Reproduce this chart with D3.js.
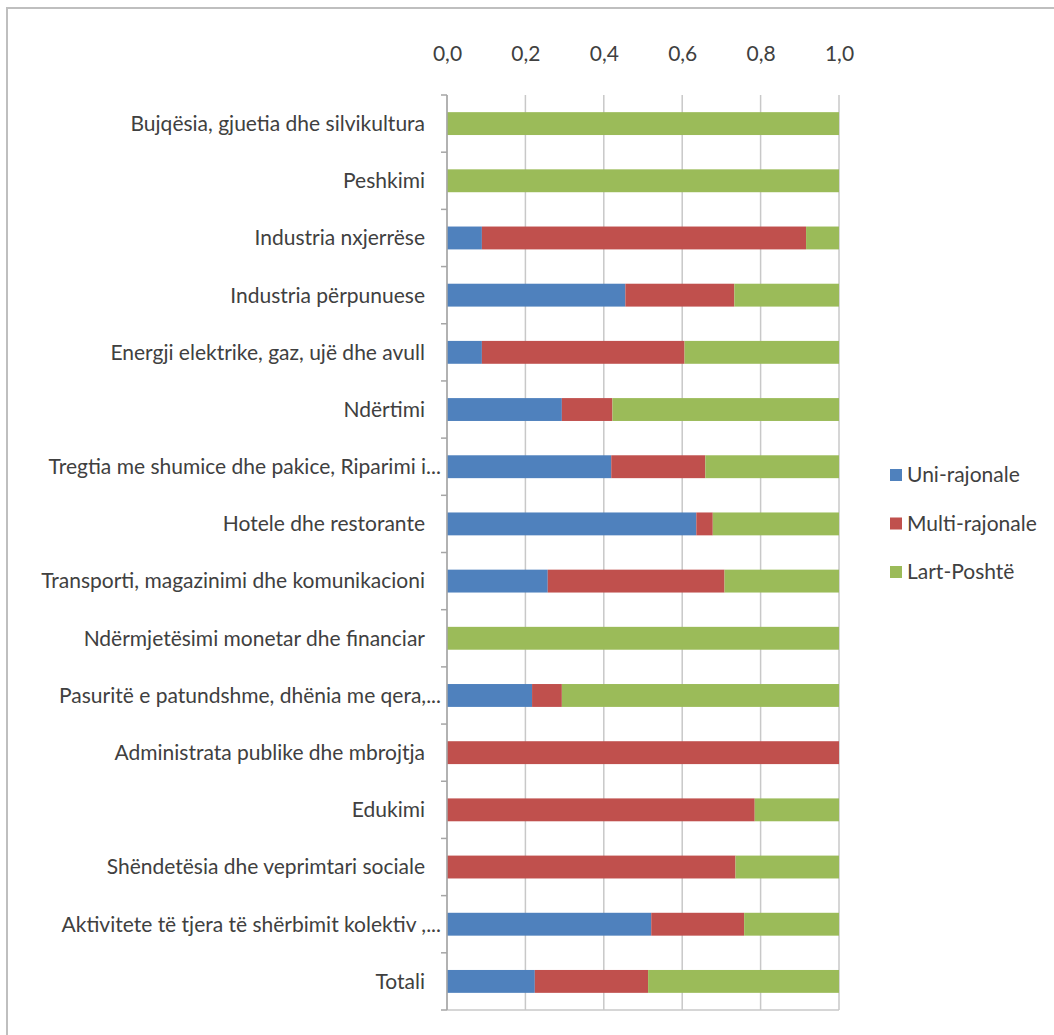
<!DOCTYPE html>
<html>
<head>
<meta charset="utf-8">
<script src="https://cdn.jsdelivr.net/npm/d3@7"></script>
<style>
  body { margin: 0; background: #fff; }
  text { font-family: Lato, "Open Sans", sans-serif; fill: #404040; }
</style>
</head>
<body>
<script>
// categories, top to bottom
let categories = [
  "Bujqësia, gjuetia dhe silvikultura",
  "Peshkimi",
  "Industria nxjerrëse",
  "Industria përpunuese",
  "Energji elektrike, gaz, ujë dhe avull",
  "Ndërtimi",
  "Tregtia me shumice dhe pakice, Riparimi i...",
  "Hotele dhe restorante",
  "Transporti, magazinimi dhe komunikacioni",
  "Ndërmjetësimi monetar dhe financiar",
  "Pasuritë e patundshme, dhënia me qera,...",
  "Administrata publike dhe mbrojtja",
  "Edukimi",
  "Shëndetësia dhe veprimtari sociale",
  "Aktivitete të tjera të shërbimit kolektiv ,...",
  "Totali"
];

let seriesNames = ["Uni-rajonale", "Multi-rajonale", "Lart-Poshtë"];
let seriesColors = ["#4f81bd", "#c0504d", "#9bbb59"];

let uniRajonale   = [0, 0, 0.089, 0.455, 0.089, 0.293, 0.419, 0.636, 0.257, 0, 0.217, 0, 0, 0, 0.521, 0.224];
let multiRajonale = [0, 0, 0.827, 0.278, 0.517, 0.129, 0.240, 0.042, 0.451, 0, 0.076, 1.0, 0.785, 0.736, 0.237, 0.289];
let lartPoshte    = [1.0, 1.0, 0.084, 0.267, 0.394, 0.578, 0.341, 0.322, 0.292, 1.0, 0.707, 0, 0.215, 0.264, 0.242, 0.487];

let xTicks = [0, 0.2, 0.4, 0.6, 0.8, 1.0];

let margin = null, width = null, height = null;
let svg = null;
let x, y = null;

setupCanvasSize();
appendSvg("body");
setupScales();
appendGrid();
appendBars();
appendAxes();
appendLegend();

function setupCanvasSize() {
  margin = {top: 95, left: 447, bottom: 25, right: 215};
  width = 1054 - margin.left - margin.right;
  height = 1035 - margin.top - margin.bottom;
}

function appendSvg(domElement) {
  let root = d3.select(domElement).append("svg")
    .attr("width", 1054)
    .attr("height", 1035);

  // outer chart border (only top/left visible in the picture)
  root.append("rect")
    .attr("x", 7).attr("y", 8)
    .attr("width", 1200).attr("height", 1200)
    .attr("fill", "none")
    .attr("stroke", "#bfbfbf")
    .attr("stroke-width", 2);

  svg = root.append("g")
    .attr("transform", "translate(" + margin.left + "," + margin.top + ")");
}

function setupScales() {
  x = d3.scaleLinear().domain([0, 1]).range([0, width]);
  y = d3.scaleBand().domain(categories).range([0, height]).paddingInner(0.6).paddingOuter(0.3);
}

function appendGrid() {
  svg.append("g")
    .selectAll("line")
    .data(xTicks)
    .enter().append("line")
      .attr("x1", d => x(d)).attr("x2", d => x(d))
      .attr("y1", 0).attr("y2", height)
      .attr("stroke", "#c8c8c8")
      .attr("stroke-width", 1.5);
  // bottom edge of plot
  svg.append("line")
    .attr("x1", 0).attr("x2", width)
    .attr("y1", height).attr("y2", height)
    .attr("stroke", "#c8c8c8").attr("stroke-width", 1.5);
}

function appendBars() {
  let rows = categories.map(function(c, i) {
    return {cat: c, "Uni-rajonale": uniRajonale[i], "Multi-rajonale": multiRajonale[i], "Lart-Poshtë": lartPoshte[i]};
  });
  let stacked = d3.stack().keys(seriesNames)(rows);

  svg.append("g")
    .selectAll("g")
    .data(stacked)
    .enter().append("g")
      .attr("fill", (d, i) => seriesColors[i])
    .selectAll("rect")
    .data(d => d)
    .enter().append("rect")
      .attr("x", d => x(d[0]))
      .attr("y", d => y(d.data.cat))
      .attr("width", d => x(d[1]) - x(d[0]))
      .attr("height", y.bandwidth());
}

function appendAxes() {
  let fmt = d => d3.format(".1f")(d).replace(".", ",");
  let top = svg.append("g")
    .attr("transform", "translate(0,-31)")
    .call(d3.axisTop(x).tickValues(xTicks).tickFormat(fmt).tickSize(0));
  top.select(".domain").remove();
  top.selectAll("text")
    .attr("font-size", 21)
    .attr("font-family", "Lato, sans-serif")
    .attr("fill", "#404040");

  // category axis on the left
  let step = y.step();
  let left = svg.append("g");
  left.append("line")
    .attr("x1", 0).attr("x2", 0).attr("y1", 0).attr("y2", height)
    .attr("stroke", "#a6a6a6").attr("stroke-width", 1.5);
  left.selectAll("line.tick")
    .data(d3.range(categories.length + 1))
    .enter().append("line")
      .attr("class", "tick")
      .attr("x1", -6).attr("x2", 0)
      .attr("y1", d => d * step).attr("y2", d => d * step)
      .attr("stroke", "#a6a6a6").attr("stroke-width", 1.5);

  left.selectAll("text")
    .data(categories)
    .enter().append("text")
      .attr("x", d => d.endsWith("...") ? -6 : -22)
      .attr("y", d => y(d) + y.bandwidth() / 2)
      .attr("dy", "0.35em")
      .attr("text-anchor", "end")
      .attr("font-size", 21)
      .text(d => d);
}

function appendLegend() {
  let lg = svg.append("g")
    .attr("transform", "translate(" + (890 - margin.left) + "," + (475 - margin.top) + ")");
  let item = lg.selectAll("g")
    .data(seriesNames)
    .enter().append("g")
      .attr("transform", (d, i) => "translate(0," + (i * 48.5) + ")");
  item.append("rect")
    .attr("x", 0).attr("y", -6)
    .attr("width", 12).attr("height", 12)
    .attr("fill", (d, i) => seriesColors[i]);
  item.append("text")
    .attr("x", 17).attr("dy", "0.35em")
    .attr("font-size", 21)
    .text(d => d);
}
</script>
</body>
</html>
